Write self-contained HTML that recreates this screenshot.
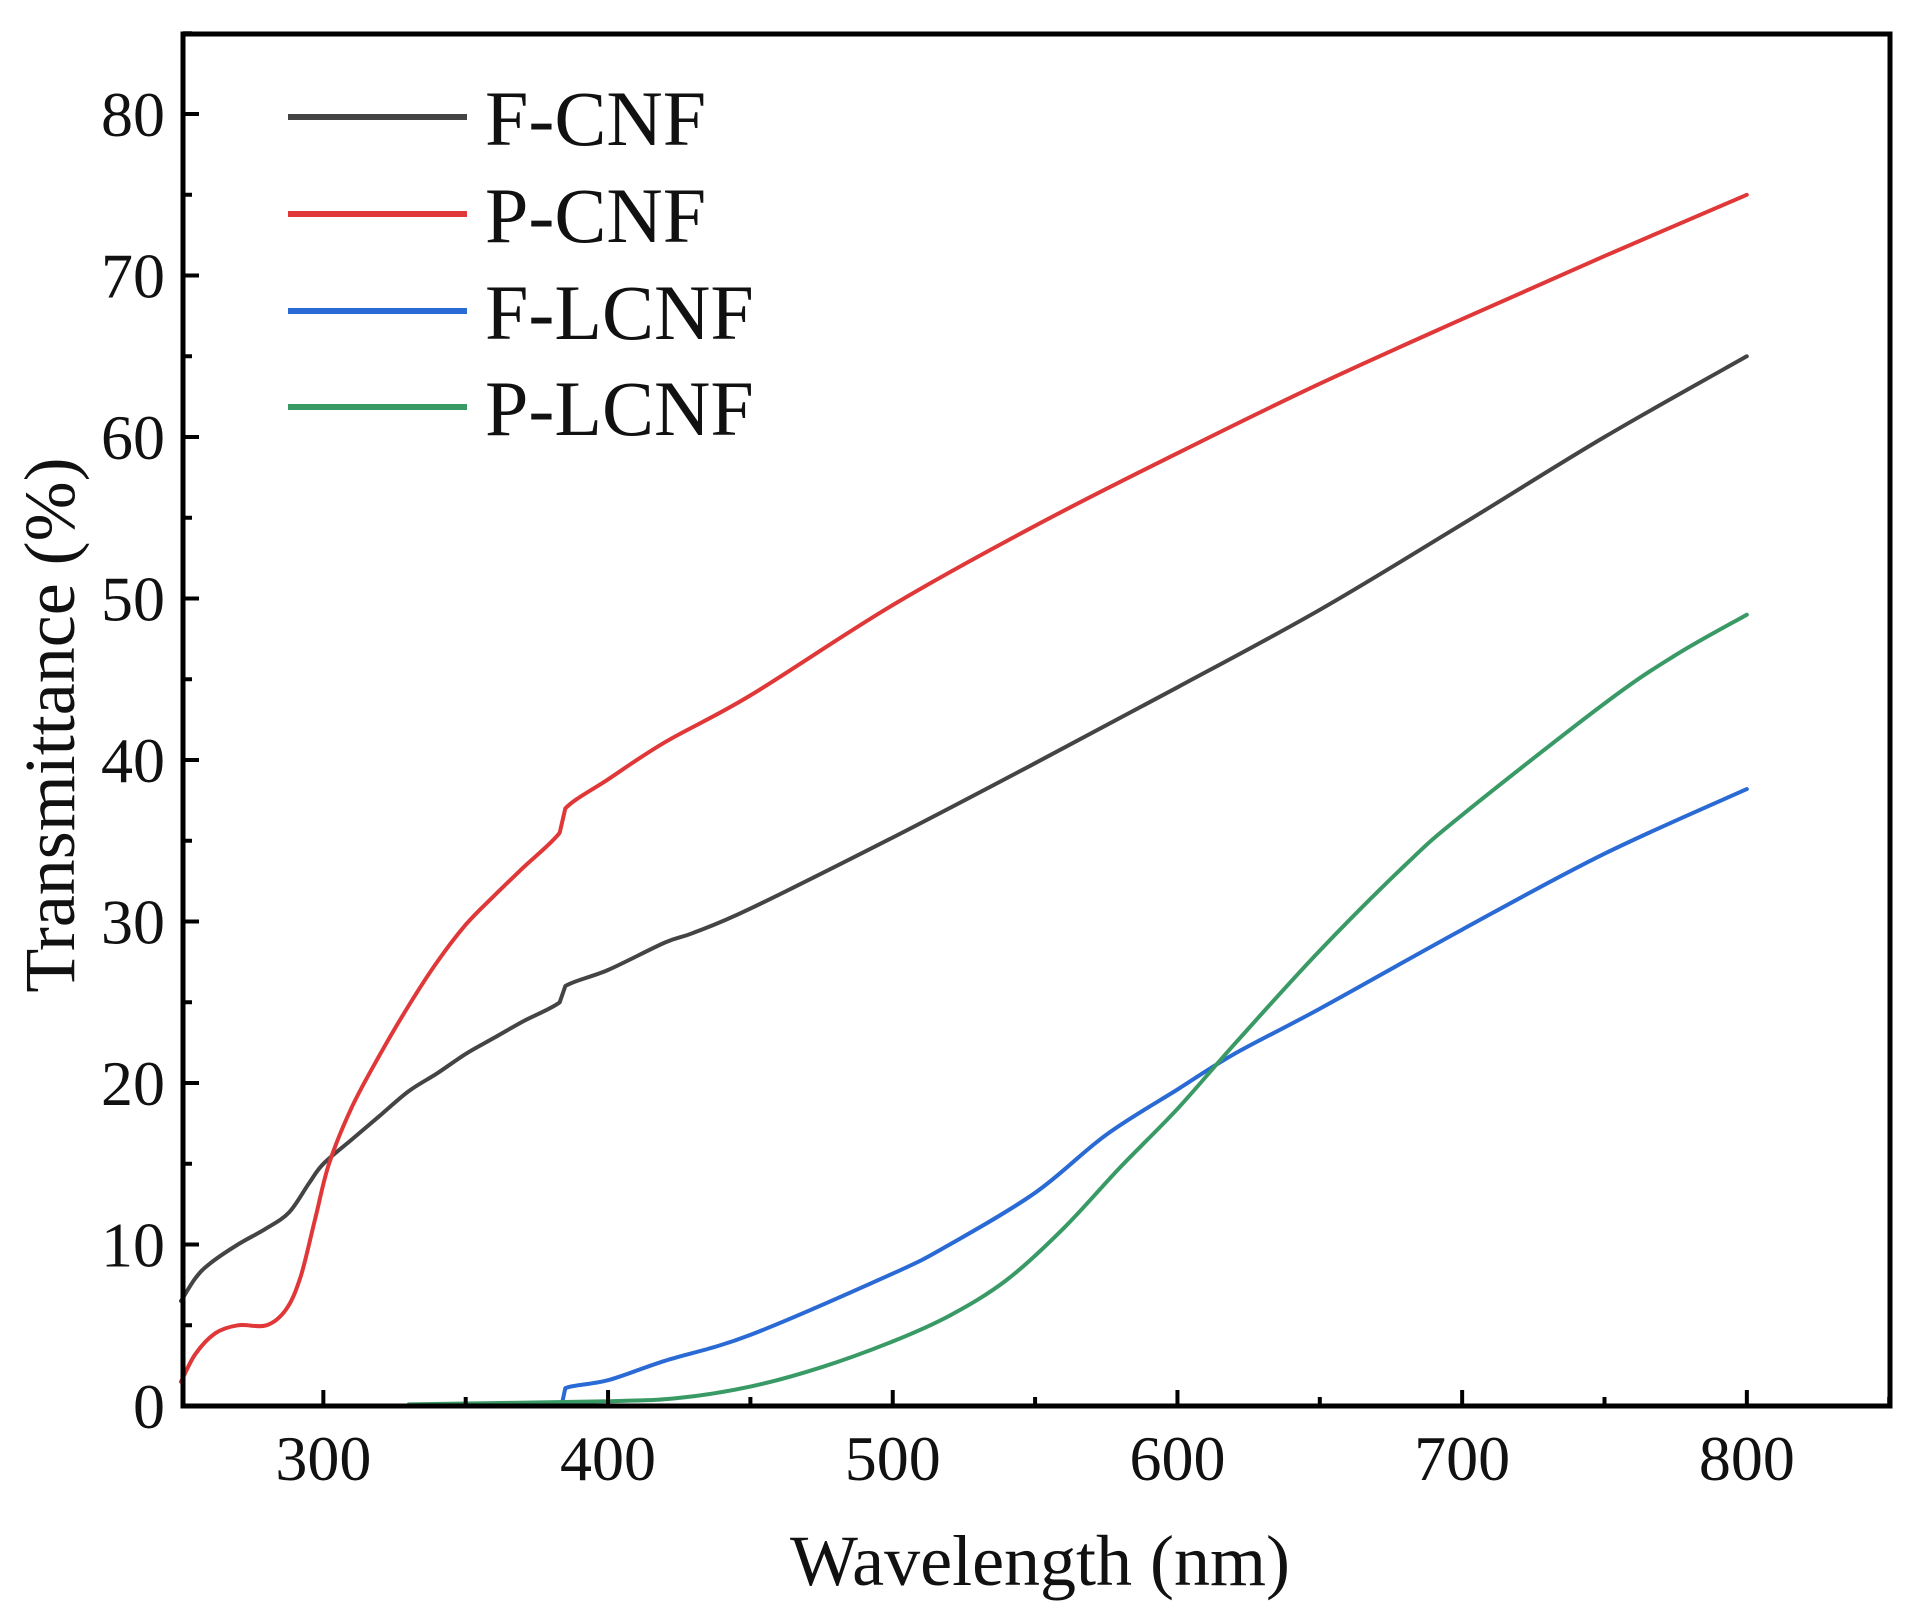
<!DOCTYPE html>
<html><head><meta charset="utf-8"><style>
html,body{margin:0;padding:0;background:#fff;}
svg{display:block;}
text{font-family:"Liberation Serif",serif;fill:#111;}
</style></head><body>
<svg id="s" width="1914" height="1622" viewBox="0 0 1914 1622" xmlns="http://www.w3.org/2000/svg">
<g id="curves" fill="none" stroke-width="4" stroke-linejoin="round" stroke-linecap="round"></g>
<rect x="183" y="34" width="1707" height="1372" fill="none" stroke="#000" stroke-width="5"/>
<g id="ticks" stroke="#000" stroke-width="4"></g>
<g id="labels" font-size="64"></g>
<g font-size="78">
<line x1="288" y1="117" x2="467" y2="117" stroke="#444" stroke-width="6"/>
<text x="485" y="145">F-CNF</text>
<line x1="288" y1="214" x2="467" y2="214" stroke="#e03838" stroke-width="6"/>
<text x="485" y="242">P-CNF</text>
<line x1="288" y1="311" x2="467" y2="311" stroke="#2a6ad4" stroke-width="6"/>
<text x="485" y="339">F-LCNF</text>
<line x1="288" y1="407" x2="467" y2="407" stroke="#3a9a66" stroke-width="6"/>
<text x="485" y="435">P-LCNF</text>
</g>
<text x="1040" y="1585" font-size="72" text-anchor="middle">Wavelength (nm)</text>
<text transform="translate(74,725) rotate(-90)" font-size="72" text-anchor="middle">Transmittance (%)</text>
</svg>
<script>
var X=function(l){return 181+(l-250)*2.847;},Y=function(v){return 1406-v*16.15;};
var ns="http://www.w3.org/2000/svg";
function el(p,t,a){var e=document.createElementNS(ns,t);for(var k in a)e.setAttribute(k,a[k]);p.appendChild(e);return e;}
var tk=document.getElementById('ticks'),lb=document.getElementById('labels');
for(var l=300;l<=850;l+=50){var x=X(l),len=(l%100==0)?16:9;el(tk,'line',{x1:x,y1:1406,x2:x,y2:1406-len});
 if(l%100==0&&l<=800){var t=el(lb,'text',{x:x,y:1480,'text-anchor':'middle'});t.textContent=l;}}
for(var v=0;v<=85;v+=5){var y=Y(v),len=(v%10==0)?16:9;if(v>0)el(tk,'line',{x1:183,y1:y,x2:183+len,y2:y});
 if(v%10==0){var t=el(lb,'text',{x:165,y:y+22,'text-anchor':'end'});t.textContent=v;}}
var D={
"#444":[[250,6.5],[255,7.9],[260,8.8],[270,10],[280,11],[288,12],[295,13.8],[300,15],[310,16.5],[320,18],[330,19.5],[340,20.6],[350,21.8],[360,22.8],[370,23.8],[383,25],[385,26],[400,27],[420,28.7],[430,29.3],[450,30.8],[500,35.2],[550,39.8],[600,44.5],[650,49.3],[700,54.6],[750,60],[800,65]],
"#e03838":[[250,1.5],[255,3.2],[262,4.5],[270,5],[280,5],[287,6],[292,8],[297,11.5],[302,15],[310,18.5],[320,21.8],[330,24.8],[340,27.5],[350,29.8],[360,31.6],[370,33.3],[383,35.5],[385,37],[400,38.8],[420,41.1],[450,44],[500,49.6],[550,54.5],[600,59],[650,63.3],[700,67.3],[750,71.2],[800,75]],
"#2a6ad4":[[330,0],[380,0.2],[384,0.3],[385,1.1],[400,1.6],[420,2.8],[450,4.4],[500,8.2],[520,10],[550,13.2],[575,16.8],[600,19.6],[620,21.8],[650,24.6],[700,29.5],[750,34.2],[800,38.2]],
"#3a9a66":[[330,0.1],[400,0.3],[425,0.5],[450,1.2],[475,2.4],[500,4],[520,5.6],[540,7.8],[560,11],[580,14.8],[600,18.4],[620,22.4],[650,28.2],[680,33.5],[700,36.6],[750,43.5],[775,46.5],[800,49]]};
var g=document.getElementById('curves');
for(var c in D){var P=D[c].map(function(q){return [X(q[0]),Y(q[1])]});
 var d='M'+P[0][0].toFixed(1)+','+P[0][1].toFixed(1);
 for(var i=0;i<P.length-1;i++){var p0=P[Math.max(i-1,0)],p1=P[i],p2=P[i+1],p3=P[Math.min(i+2,P.length-1)];
  var t=(p2[0]-p1[0]<8)?0:1/6;
  d+=' C'+(p1[0]+(p2[0]-p0[0])*t).toFixed(1)+','+(p1[1]+(p2[1]-p0[1])*t).toFixed(1)+' '+(p2[0]-(p3[0]-p1[0])*t).toFixed(1)+','+(p2[1]-(p3[1]-p1[1])*t).toFixed(1)+' '+p2[0].toFixed(1)+','+p2[1].toFixed(1);}
 el(g,'path',{d:d,stroke:c});}
</script>
</body></html>
